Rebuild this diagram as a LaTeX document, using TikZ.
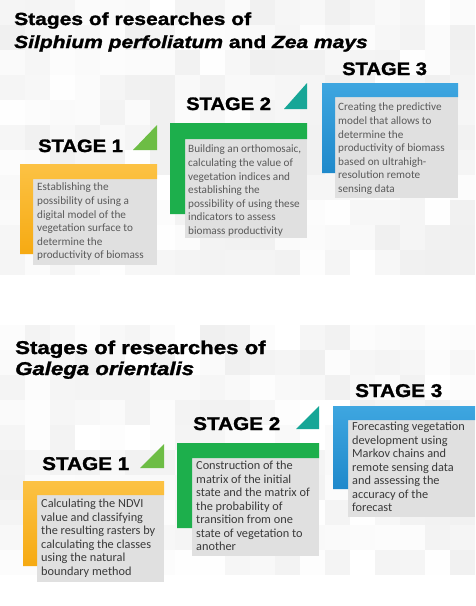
\documentclass[tikz,border=0pt]{standalone}
\usepackage{fontspec}
\setmainfont{Carlito}
\newfontfamily\heavyfont[FakeStretch=1.12,FakeBold=1.5]{Liberation Sans}
\newfontfamily\titlefont[FakeStretch=1.2,FakeBold=1.5]{Liberation Sans}
\definecolor{orangetop}{HTML}{FCC244}
\definecolor{orangebot}{HTML}{F6AA12}
\definecolor{greenbar}{HTML}{1DAF4C}
\definecolor{bluetop}{HTML}{3EA6E0}
\definecolor{bluebot}{HTML}{1F89CB}
\definecolor{lightgreen}{HTML}{6DBD45}
\definecolor{teal}{HTML}{17A697}
\definecolor{textone}{HTML}{5A5A5A}
\definecolor{texttwo}{HTML}{3A3A3A}

\begin{document}
\begin{tikzpicture}[x=1pt,y=-1pt,
  titleline/.style={anchor=base west,inner sep=0,font=\titlefont\bfseries\fontsize{#1}{#1}\selectfont},
  stagelabel/.style={anchor=base west,inner sep=0,font=\heavyfont\bfseries\fontsize{#1}{#1}\selectfont},
  bodyone/.style={anchor=north west,inner sep=0,align=left,text=textone,font=\fontsize{11.2}{13.6}\selectfont},
  bodytwo/.style={anchor=north west,inner sep=0,align=left,text=texttwo,font=\fontsize{12.3}{13.5}\selectfont},
  shadowbox/.style={fill=black!12},
  orangebar/.style={top color=orangetop,bottom color=orangebot},
  greenbarstyle/.style={fill=greenbar},
  bluebar/.style={top color=bluetop,bottom color=bluebot}]
\useasboundingbox (0,0) rectangle (475,606);

% faint mosaic background
\pgfmathsetseed{11}
\foreach \i in {0,...,18}
  \foreach \j in {0,1,2,3,4,5,6,7,8,9,10,13,14,15,16,17,18,19,20,21,22}{
    \pgfmathsetmacro\g{rnd*6}
    \fill[black!\g] (\i*25,\j*25) rectangle ++(25,25);
  }

%% part 1
\node[titleline=17.5] (t1a) at (14,25) {Stages of researches of};
\node[titleline=17.5] (t1b) at (14,48) {\itshape Silphium perfoliatum \upshape and \itshape Zea mays};

\fill[shadowbox] (33,179) rectangle (157,265);
\fill[shadowbox] (185,139) rectangle (307,238);
\fill[shadowbox] (335,97) rectangle (458,198);

\path[orangebar] (20,164) -- (157,164) -- (157,179) -- (33,179) -- (33,254) -- (20,254) -- cycle;
\path[greenbarstyle] (170,123) -- (307,123) -- (307,139) -- (185,139) -- (185,214) -- (170,214) -- cycle;
\path[bluebar] (322,83) -- (458,83) -- (458,97) -- (335,97) -- (335,173) -- (322,173) -- cycle;

\fill[lightgreen] (133,150) -- (157,125) -- (157,150) -- cycle;
\fill[teal] (284,109) -- (307,83) -- (307,109) -- cycle;

\node[stagelabel=18] (s1a) at (38,152) {STAGE 1};
\node[stagelabel=18] (s1b) at (186,110) {STAGE 2};
\node[stagelabel=18] (s1c) at (342,75) {STAGE 3};

\node[bodyone] (b1a) at (37,183) {Establishing the\\possibility of using a\\digital model of the\\vegetation surface to\\determine the\\productivity of biomass};
\node[bodyone] (b1b) at (188,145) {Building an orthomosaic,\\calculating the value of\\vegetation indices and\\establishing the\\possibility of using these\\indicators to assess\\biomass productivity};
\node[bodyone] (b1c) at (338,103) {Creating the predictive\\model that allows to\\determine the\\productivity of biomass\\based on ultrahigh-\\resolution remote\\sensing data};

%% part 2
\node[titleline=18.5] (t2a) at (15,354) {Stages of researches of};
\node[titleline=18.5] (t2b) at (15,375) {\itshape Galega orientalis};

\fill[shadowbox] (37,495) rectangle (164,582);
\fill[shadowbox] (192,458) rectangle (319,556);
\fill[shadowbox] (348,420) rectangle (475,517);

\path[orangebar] (23,481) -- (164,481) -- (164,495) -- (37,495) -- (37,566) -- (23,566) -- cycle;
\path[greenbarstyle] (177,443) -- (319,443) -- (319,458) -- (192,458) -- (192,528) -- (177,528) -- cycle;
\path[bluebar] (333,406) -- (475,406) -- (475,420) -- (348,420) -- (348,489) -- (333,489) -- cycle;

\fill[lightgreen] (140,468) -- (164,444) -- (164,468) -- cycle;
\fill[teal] (296,429) -- (319,406) -- (319,429) -- cycle;

\node[stagelabel=18.5] (s2a) at (42,470) {STAGE 1};
\node[stagelabel=18.5] (s2b) at (193,430) {STAGE 2};
\node[stagelabel=18.5] (s2c) at (355,397) {STAGE 3};

\node[bodytwo] (b2a) at (41,499) {Calculating the NDVI\\value and classifying\\the resulting rasters by\\calculating the classes\\using the natural\\boundary method};
\node[bodytwo] (b2b) at (196,461) {Construction of the\\matrix of the initial\\state and the matrix of\\the probability of\\transition from one\\state of vegetation to\\another};
\node[bodytwo] (b2c) at (352,422) {Forecasting vegetation\\development using\\Markov chains and\\remote sensing data\\and assessing the\\accuracy of the\\forecast};
\end{tikzpicture}
\end{document}
